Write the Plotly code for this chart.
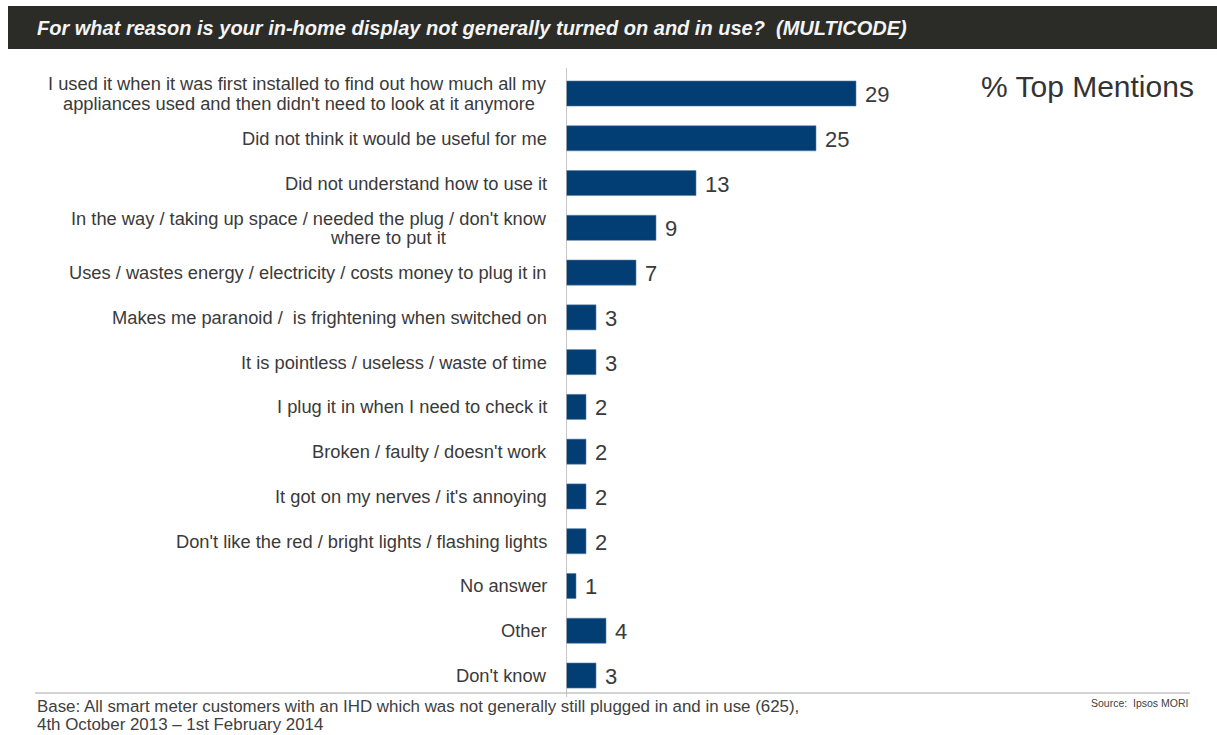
import plotly.graph_objects as go

categories = [
    "I used it when it was first installed to find out how much all my<br>appliances used and then didn't need to look at it anymore",
    "Did not think it would be useful for me",
    "Did not understand how to use it",
    "In the way / taking up space / needed the plug / don't know<br>where to put it",
    "Uses / wastes energy / electricity / costs money to plug it in",
    "Makes me paranoid /  is frightening when switched on",
    "It is pointless / useless / waste of time",
    "I plug it in when I need to check it",
    "Broken / faulty / doesn't work",
    "It got on my nerves / it's annoying",
    "Don't like the red / bright lights / flashing lights",
    "No answer",
    "Other",
    "Don't know",
]
values = [29, 25, 13, 9, 7, 3, 3, 2, 2, 2, 2, 1, 4, 3]

title_text = "For what reason is your in-home display not generally turned on and in use?  (MULTICODE)"
legend_text = "% Top Mentions"
base_text = ("Base: All smart meter customers with an IHD which was not generally still plugged in and in use (625),"
             "<br>4th October 2013 \u2013 1st February 2014")
source_text = "Source:  Ipsos MORI"

W, H = 1217, 735
L, R, T, B = 566, 27, 68, 38
PW, PH = W - L - R, H - T - B


def px(xpix):
    return (xpix - L) / PW


def py(ypix):
    return (H - B - ypix) / PH


def sized(text, size):
    # glyph size independent of the (tighter) line spacing set on the annotation
    return "<br>".join(f'<span style="font-size:{size}px">{part}</span>' for part in text.split("<br>"))


FONT = "Liberation Sans, Arial, sans-serif"
NARROW = "Liberation Sans Narrow, Arial Narrow, Liberation Sans, sans-serif"
TXT = "#3a3a3a"
LABEL_SIZE = 18.3
LINE_GAP = 19.5
# right edge (px) of the second line of wrapped labels, keyed by category index
wrap_right = {0: 537, 3: 448}
positions = list(range(len(categories)))

fig = go.Figure(go.Bar(
    x=values, y=positions, orientation="h", width=0.56,
    marker=dict(color="#023d74", line=dict(color="#5b7fa8", width=0.6)),
    hoverinfo="skip",
))

fig.update_layout(
    width=W, height=H,
    margin=dict(l=L, r=R, t=T, b=B),
    paper_bgcolor="white", plot_bgcolor="white",
    showlegend=False,
    font=dict(family=FONT, color=TXT),
    xaxis=dict(range=[0, PW / 10.0], visible=False, fixedrange=True),
    yaxis=dict(range=[13.48, -0.57], visible=False, fixedrange=True),
)

annotations = []
for i, (cat, v) in enumerate(zip(categories, values)):
    lines = cat.split("<br>")
    n = len(lines)
    for k, line in enumerate(lines):
        right = 549 if k == 0 else wrap_right.get(i, 549)
        annotations.append(dict(
            x=px(right), xref="paper", y=i, yref="y", text=line, showarrow=False,
            xanchor="right", yanchor="middle",
            yshift=-(k - (n - 1) / 2) * LINE_GAP,
            font=dict(size=LABEL_SIZE, color=TXT, family=FONT),
        ))
    annotations.append(dict(
        x=v, xref="x", y=i, yref="y", text=str(v), showarrow=False,
        xanchor="left", yanchor="middle", xshift=7, yshift=-1,
        font=dict(size=22, color=TXT, family=FONT),
    ))

annotations += [
    dict(x=px(35), xref="paper", y=py(27.5), yref="paper", text="<b><i>" + title_text + "</i></b>",
         showarrow=False, xanchor="left", yanchor="middle",
         font=dict(size=20, color="#f4f4f4", family=FONT)),
    dict(x=px(1196), xref="paper", y=py(87), yref="paper", text=legend_text,
         showarrow=False, xanchor="right", yanchor="middle",
         font=dict(size=30, color="#333333", family=FONT)),
    dict(x=px(35), xref="paper", y=py(695), yref="paper", text=sized(base_text, 16.9),
         showarrow=False, xanchor="left", yanchor="top", align="left",
         font=dict(size=14, color="#404040", family=FONT)),
    dict(x=px(1190), xref="paper", y=py(703), yref="paper", text=source_text,
         showarrow=False, xanchor="right", yanchor="middle",
         font=dict(size=10.5, color="#404040", family=NARROW)),
]
fig.update_layout(annotations=annotations)

fig.update_layout(shapes=[
    # title band
    dict(type="rect", xref="paper", yref="paper", x0=px(8), x1=px(1217), y0=py(49), y1=py(6),
         fillcolor="#2b2c27", line=dict(width=0), layer="below"),
    # bottom rule
    dict(type="line", xref="paper", yref="paper", x0=px(35), x1=px(1190), y0=py(693), y1=py(693),
         line=dict(color="#c4c4c4", width=1.5)),
    # category axis line
    dict(type="line", xref="x", yref="paper", x0=0, x1=0, y0=py(697), y1=py(68),
         line=dict(color="#b4b4b4", width=1.5)),
])

fig.write_html("out.html")
